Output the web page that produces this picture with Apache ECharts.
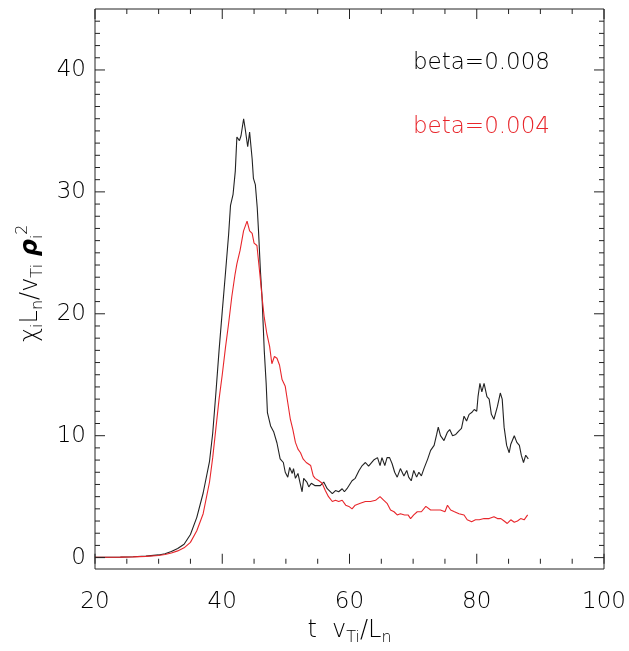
<!DOCTYPE html>
<html>
<head>
<meta charset="utf-8">
<script src="https://cdn.jsdelivr.net/npm/echarts@6/dist/echarts.min.js"></script>
<style>
html,body{margin:0;padding:0;background:#fff;}
#c{width:629px;height:651px;}
</style>
</head>
<body>
<div id="c"></div>
<script>
// beta = 0.008 (black)
const tBlack = [20,22,24,26,28,30,31,32,33,34,35,36,37,38,38.5,39,39.5,40,40.5,41,41.3,41.7,42.05,42.3,42.7,42.95,43.36,43.6,44.0,44.3,44.7,44.9,45.2,45.5,45.7,46.0,46.25,46.4,46.6,46.9,47.1,47.6,48.1,48.6,49.1,49.6,49.9,50.3,50.6,51.0,51.2,51.5,51.9,52.2,52.55,52.8,53.3,53.6,54.0,54.6,55.4,55.95,56.5,57.3,57.8,58.3,58.85,59.2,59.6,60.4,60.9,61.5,62.0,62.5,63.0,63.3,63.8,64.4,64.8,65.1,65.55,65.9,66.3,66.7,67.1,67.5,68.0,68.55,69.0,69.3,69.7,70.1,70.55,70.9,71.3,71.7,72.3,72.75,73.3,73.7,73.95,74.3,74.85,75.4,75.75,76.2,76.7,77.2,77.6,78.0,78.4,78.8,79.2,79.6,80.0,80.2,80.5,80.8,81.15,81.6,81.95,82.3,82.7,83.25,83.7,84.0,84.3,84.7,85.1,85.35,85.9,86.3,86.7,87.0,87.35,87.7,88.1];
const yBlack = [0.02,0.03,0.04,0.07,0.12,0.22,0.32,0.5,0.75,1.1,1.9,3.3,5.3,7.9,10.2,13.5,17.0,20.2,23.3,26.5,28.9,29.8,31.7,34.5,34.2,34.6,36.0,35.2,33.7,34.9,32.7,31.1,30.6,28.7,26.8,23.5,21.4,19.5,17.0,14.3,11.9,10.8,10.3,9.4,8.1,7.8,7.0,6.6,7.4,6.9,7.3,6.5,6.9,6.2,5.4,6.5,6.2,5.8,6.1,5.9,5.9,6.2,5.65,5.25,5.5,5.4,5.65,5.4,5.65,6.3,6.5,7.15,7.55,7.8,7.5,7.4,8.0,8.2,7.55,8.2,7.55,8.2,8.2,7.7,7.0,6.6,7.3,6.7,7.15,6.6,6.3,7.15,6.6,7.0,6.7,7.3,8.1,8.8,9.2,10.1,10.7,10.0,9.6,10.3,10.5,10.0,10.1,10.4,10.6,11.6,11.2,11.75,11.9,12.15,12.0,13.2,14.3,13.6,14.3,13.2,13.0,11.75,11.35,12.4,13.5,13.0,10.7,9.2,8.6,9.3,10.0,9.45,9.2,8.4,7.8,8.4,8.1];
// beta = 0.004 (red)
const tRed = [20,22,24,26,28,30,31,32,33,34,35,36,37,38,38.5,39,39.5,40,40.5,41,41.5,42.0,42.3,42.8,43.35,43.9,44.3,44.7,45.0,45.45,45.9,46.25,46.6,47.0,47.45,47.8,48.2,48.6,49.0,49.4,49.9,50.3,50.7,51.1,51.5,51.9,52.3,52.7,53.2,53.9,54.3,54.6,55.2,55.7,56.2,56.7,57.3,57.8,58.3,58.85,59.4,59.9,60.4,60.9,61.7,62.5,63.3,64.1,64.8,65.4,65.9,66.45,67.0,67.5,68.0,68.65,69.2,69.6,70.1,70.65,71.3,72.0,72.75,73.5,74.3,75.0,75.4,75.9,76.5,77.2,78.0,78.5,79.2,79.8,80.4,81.15,81.95,82.7,83.25,83.8,84.3,84.8,85.35,85.9,86.4,86.9,87.45,88.0];
const yRed = [0.02,0.03,0.04,0.06,0.1,0.17,0.25,0.38,0.55,0.8,1.25,2.2,3.6,6.2,8.2,10.6,13.0,15.0,17.2,19.2,21.4,23.2,24.1,25.2,26.8,27.6,26.8,26.6,25.8,25.6,23.3,21.4,19.7,18.4,17.3,15.9,16.5,16.35,15.8,14.6,14.05,12.7,11.35,10.5,9.45,8.9,8.6,8.1,7.8,7.55,6.7,6.5,6.3,6.1,5.5,5.0,4.6,4.7,4.6,4.7,4.3,4.2,4.0,4.3,4.45,4.6,4.6,4.7,5.0,4.7,4.45,3.9,3.76,3.5,3.6,3.5,3.5,3.2,3.5,3.76,3.76,4.2,3.9,3.9,3.9,3.76,4.3,3.9,3.76,3.6,3.5,3.1,2.95,3.1,3.1,3.2,3.2,3.35,3.2,3.2,3.0,2.8,3.1,2.9,3.0,3.2,3.1,3.5];
const seriesNames = ['beta=0.008', 'beta=0.004'];
// axis ranges and tick values
const xRange = {min: 20, max: 100, interval: 20};
const yRange = {min: 0, max: 45, interval: 10};
const yFrameBottom = -0.5;
const xMajorTicks = [20, 40, 60, 80, 100];
const xMinorTicks = [25, 30, 35, 45, 50, 55, 65, 70, 75, 85, 90, 95];
const yMajorTicks = [0, 10, 20, 30, 40];
const yMinorTicks = [1,2,3,4,5,6,7,8,9,11,12,13,14,15,16,17,18,19,21,22,23,24,25,26,27,28,29,31,32,33,34,35,36,37,38,39,41,42,43,44];

const FONT = 'DejaVu Sans';
const INK = '#222';
const TXT = '#000';
const RED = '#e8262b';

const pairs = (ts, ys) => ts.map((t, i) => [t, ys[i]]);

// tick marks drawn as scatter symbols placed through the axes' scales
function tickSeries(name, points, size, offset) {
  return {
    name: name, type: 'scatter', xAxisIndex: 0, yAxisIndex: 0,
    data: points, symbol: 'rect', symbolSize: size, symbolOffset: offset,
    itemStyle: {color: INK, opacity: 1}, silent: true, clip: false, z: 5
  };
}
const MAJ = 10, MIN = 5;
const tickMarks = [
  tickSeries('tick-l-major', yMajorTicks.map(v => [xRange.min, v]), [MAJ, 1], [MAJ / 2, 0]),
  tickSeries('tick-l-minor', yMinorTicks.map(v => [xRange.min, v]), [MIN, 1], [MIN / 2, 0]),
  tickSeries('tick-r-major', yMajorTicks.map(v => [xRange.max, v]), [MAJ, 1], [-MAJ / 2, 0]),
  tickSeries('tick-r-minor', yMinorTicks.map(v => [xRange.max, v]), [MIN, 1], [-MIN / 2, 0]),
  tickSeries('tick-b-major', xMajorTicks.map(v => [v, yFrameBottom]), [1, MAJ], [0, -MAJ / 2]),
  tickSeries('tick-b-minor', xMinorTicks.map(v => [v, yFrameBottom]), [1, MIN], [0, -MIN / 2]),
  tickSeries('tick-t-major', xMajorTicks.map(v => [v, yRange.max]), [1, MAJ], [0, MAJ / 2]),
  tickSeries('tick-t-minor', xMinorTicks.map(v => [v, yRange.max]), [1, MIN], [0, MIN / 2])
];

const labelFont = {color: TXT, fontFamily: FONT, fontSize: 23, fontWeight: 200};
const plain = {
  axisLine: {show: false, onZero: false},
  axisTick: {show: false},
  minorTick: {show: false},
  splitLine: {show: false}
};
const keyText = {fontFamily: FONT, fontSize: 23, lineHeight: 24, fontWeight: 200};

const chart = echarts.init(document.getElementById('c'));
chart.setOption({
  animation: false,
  title: [
    {text: seriesNames[0], left: 413, top: 51, padding: 0, textStyle: Object.assign({color: TXT}, keyText)},
    {text: seriesNames[1], left: 413, top: 115, padding: 0, textStyle: Object.assign({color: RED}, keyText)}
  ],
  grid: [
    {left: 95, right: 25, top: 9, bottom: 88},
    {left: 95, right: 25, top: 9, bottom: 82, show: true, borderColor: INK, borderWidth: 1}
  ],
  xAxis: [
    Object.assign({}, plain, {
      type: 'value', gridIndex: 0, position: 'bottom', offset: 6,
      min: xRange.min, max: xRange.max, interval: xRange.interval,
      axisLabel: Object.assign({margin: 27}, labelFont),
      name: '{m|t  v}{s|Ti}{m|/L}{s|n}',
      nameLocation: 'middle', nameGap: 46,
      nameTextStyle: {
        color: TXT, fontFamily: FONT,
        rich: {
          m: {fontSize: 24, fontFamily: FONT, color: TXT, fontWeight: 200},
          s: {fontSize: 16, fontFamily: FONT, color: TXT, fontWeight: 200, padding: [15, 0, 0, 0]}
        }
      }
    }),
    {type: 'value', gridIndex: 1, show: false, min: 0, max: 1, axisLine: {onZero: false}}
  ],
  yAxis: [
    Object.assign({}, plain, {
      type: 'value', gridIndex: 0, position: 'left',
      min: yRange.min, max: yRange.max, interval: yRange.interval,
      axisLabel: Object.assign({margin: 9, showMaxLabel: false}, labelFont),
      name: '{m|χ}{s|i}{m|L}{s|n}{m|/v}{s|Ti}{m| }{r|ρ}{s|i}{p|2}',
      nameLocation: 'middle', nameGap: 49,
      nameTextStyle: {
        color: TXT, fontFamily: FONT,
        rich: {
          m: {fontSize: 24, fontFamily: FONT, color: TXT, fontWeight: 200},
          r: {fontSize: 24, fontFamily: FONT, color: TXT, fontStyle: 'italic', fontWeight: 'bold'},
          s: {fontSize: 16, fontFamily: FONT, color: TXT, fontWeight: 200, padding: [15, 0, 0, 0]},
          p: {fontSize: 16, fontFamily: FONT, color: TXT, fontWeight: 200, padding: [0, 0, 15, 0]}
        }
      }
    }),
    {type: 'value', gridIndex: 1, show: false, min: 0, max: 1, axisLine: {onZero: false}}
  ],
  series: [
    {
      name: seriesNames[0], type: 'line', xAxisIndex: 0, yAxisIndex: 0,
      data: pairs(tBlack, yBlack), showSymbol: false, symbol: 'none',
      lineStyle: {color: INK, width: 1.1}, itemStyle: {color: INK}
    },
    {
      name: seriesNames[1], type: 'line', xAxisIndex: 0, yAxisIndex: 0,
      data: pairs(tRed, yRed), showSymbol: false, symbol: 'none',
      lineStyle: {color: RED, width: 1.1}, itemStyle: {color: RED}
    }
  ].concat(tickMarks)
});
</script>
</body>
</html>
